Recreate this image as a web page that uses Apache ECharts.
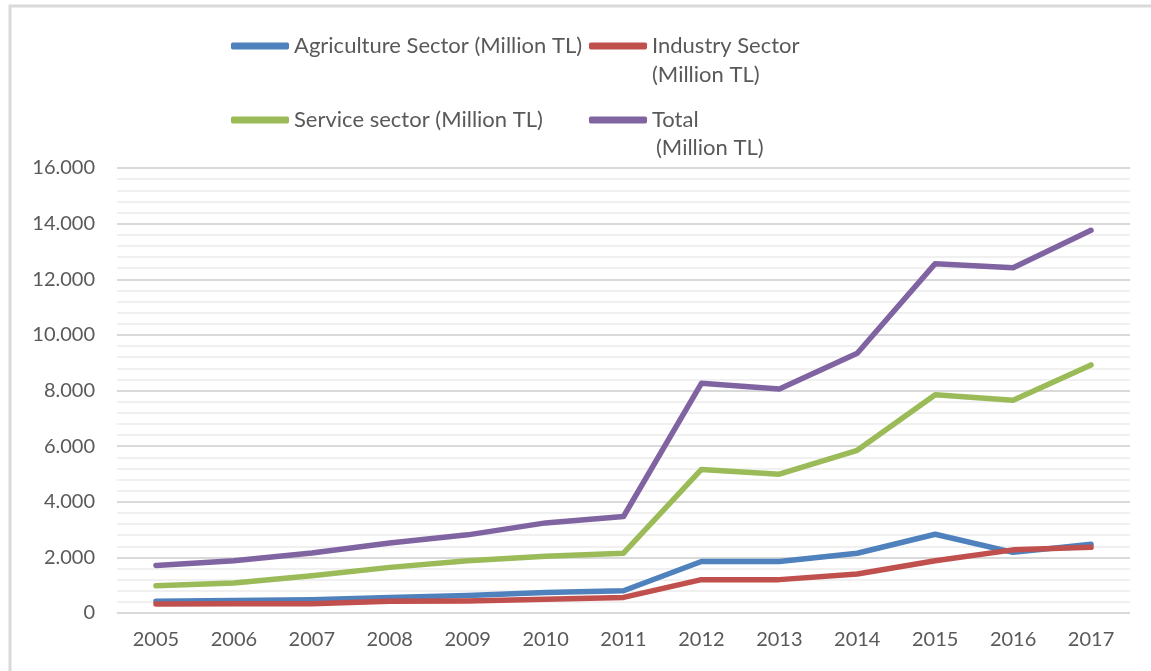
<!DOCTYPE html>
<html>
<head>
<meta charset="utf-8">
<script src="https://cdn.jsdelivr.net/npm/echarts@6/dist/echarts.min.js"></script>
<style>
  html, body { margin: 0; padding: 0; background: #ffffff; }
  #chart { width: 1151px; height: 671px; }
</style>
</head>
<body>
<div id="chart"></div>
<script>
// Sector values by year, million TL
const years = ['2005', '2006', '2007', '2008', '2009', '2010', '2011', '2012', '2013', '2014', '2015', '2016', '2017'];
const agriculture = [420, 450, 480, 560, 630, 740, 800, 1850, 1850, 2150, 2830, 2180, 2470];
const industry = [320, 330, 330, 420, 430, 490, 560, 1200, 1200, 1400, 1880, 2270, 2360];
const service = [980, 1080, 1340, 1640, 1880, 2040, 2150, 5160, 4990, 5850, 7850, 7650, 8920];
const total = [1710, 1880, 2160, 2520, 2810, 3240, 3470, 8260, 8050, 9340, 12560, 12410, 13760];

const seriesNames = [
  'Agriculture Sector (Million TL)',
  'Industry Sector (Million TL)',
  'Service sector (Million TL)',
  'Total (Million TL)'
];
// First legend line per series; wrapped entries get a second line below
const legendFirstLine = {
  'Agriculture Sector (Million TL)': 'Agriculture Sector (Million TL)',
  'Industry Sector (Million TL)': 'Industry Sector',
  'Service sector (Million TL)': 'Service sector (Million TL)',
  'Total (Million TL)': 'Total'
};
const legendSecondLine = '(Million TL)';
const colors = ['#4f81bd', '#c0504d', '#9bbb59', '#8064a2'];
const values = [agriculture, industry, service, total];

const FONT = 'Lato, "Open Sans", sans-serif';
const TEXT = '#595959';
const LEGEND_SIZE = 22;

function fmtThousands(v) {
  if (v === 0) return '0';
  return String(v).replace(/\B(?=(\d{3})+(?!\d))/g, '.');
}

function legendAt(name, left, iconY) {
  return {
    data: [name],
    left: left,
    top: iconY - 14,
    padding: 0,
    orient: 'horizontal',
    icon: 'roundRect',
    itemWidth: 58,
    itemHeight: 7,
    selectedMode: false,
    formatter: n => legendFirstLine[n],
    textStyle: {
      fontFamily: FONT,
      fontSize: LEGEND_SIZE,
      color: TEXT,
      lineHeight: 28
    }
  };
}

function legendWrap(x, y) {
  return {
    type: 'text',
    x: x,
    y: y,
    silent: true,
    style: {
      text: legendSecondLine,
      fontFamily: FONT,
      fontSize: LEGEND_SIZE,
      fill: TEXT,
      align: 'left',
      verticalAlign: 'middle'
    }
  };
}

const chart = echarts.init(document.getElementById('chart'), null, { renderer: 'canvas' });

chart.setOption({
  backgroundColor: '#ffffff',
  animation: false,
  color: colors,
  graphic: [
    {
      type: 'rect',
      shape: { x: 10, y: 6, width: 1200, height: 720 },
      style: { fill: 'none', stroke: '#d9d9d9', lineWidth: 3 },
      silent: true,
      z: -10
    },
    legendWrap(652, 75),
    legendWrap(656, 148)
  ],
  legend: [
    legendAt(seriesNames[0], 231, 46),
    legendAt(seriesNames[1], 589, 46),
    legendAt(seriesNames[2], 231, 120),
    legendAt(seriesNames[3], 589, 120)
  ],
  grid: { left: 117, right: 21, top: 168, bottom: 58, containLabel: false },
  xAxis: {
    type: 'category',
    data: years,
    boundaryGap: true,
    axisLine: { show: false },
    axisTick: { show: false },
    axisLabel: { fontFamily: FONT, fontSize: 20, color: TEXT, margin: 17 }
  },
  yAxis: {
    type: 'value',
    min: 0,
    max: 16000,
    interval: 2000,
    axisLine: { show: false },
    axisTick: { show: false },
    axisLabel: { fontFamily: FONT, fontSize: 20, color: TEXT, margin: 22, formatter: fmtThousands },
    splitLine: { lineStyle: { color: '#d9d9d9', width: 2 } },
    minorTick: { show: false, splitNumber: 5 },
    minorSplitLine: { show: true, lineStyle: { color: '#f0f0f0', width: 2 } }
  },
  series: seriesNames.map((name, i) => ({
    name: name,
    type: 'line',
    data: values[i],
    symbol: 'none',
    lineStyle: { width: 5.5, color: colors[i], cap: 'round', join: 'round' },
    itemStyle: { color: colors[i] },
    z: 2 + i
  }))
});
</script>
</body>
</html>
